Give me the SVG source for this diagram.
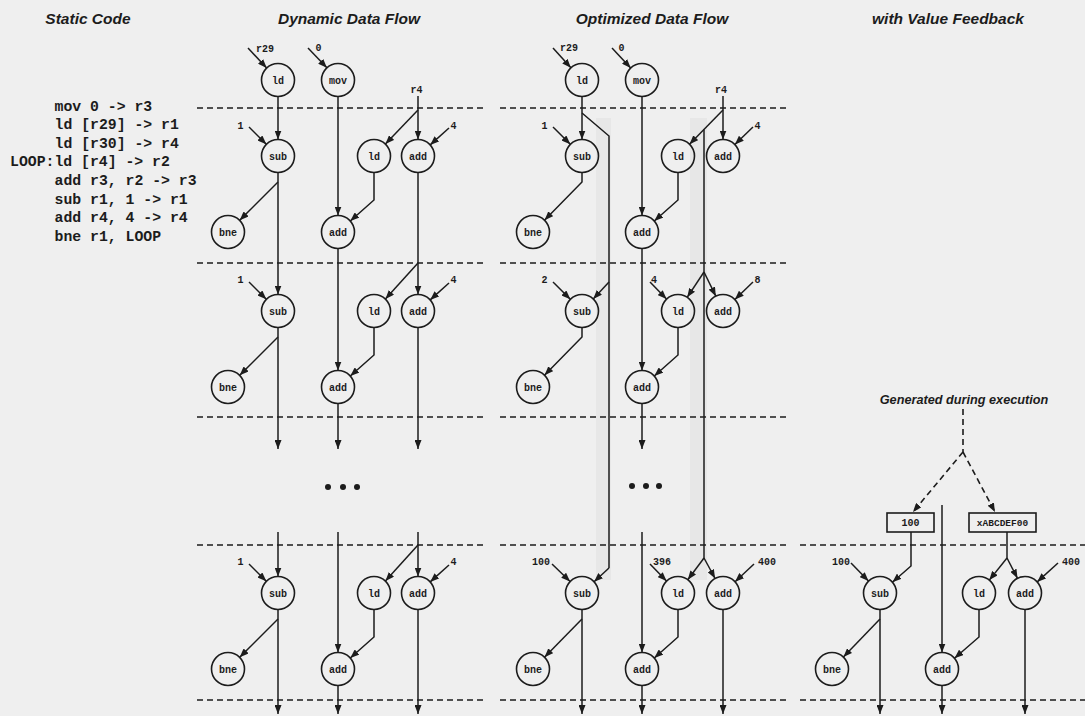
<svg xmlns="http://www.w3.org/2000/svg" width="1085" height="716" viewBox="0 0 1085 716">
<style>
.ln{stroke:#1c1c1c;stroke-width:1.5;fill:none}
.ar{marker-end:url(#ah)}
.dash{stroke:#1c1c1c;stroke-width:1.6;stroke-dasharray:6 4;fill:none}
.nd circle{fill:none;stroke:#1c1c1c;stroke-width:1.6}
.nd rect{fill:none;stroke:#1c1c1c;stroke-width:1.6}
.nd text,.lb{font-family:"Liberation Mono","DejaVu Sans Mono",monospace;font-weight:bold;font-size:10px;text-anchor:middle;fill:#1c1c1c}
.code{font-family:"Liberation Mono","DejaVu Sans Mono",monospace;font-weight:bold;font-size:14.8px;fill:#1c1c1c}
.title{font-family:"Liberation Sans",Arial,sans-serif;font-weight:bold;font-style:italic;font-size:15.5px;text-anchor:middle;fill:#1c1c1c}
.dot{fill:#1c1c1c}
</style>
<defs>
<marker id="ah" markerWidth="9" markerHeight="7" refX="9" refY="3.5" orient="auto" markerUnits="userSpaceOnUse"><path d="M0,0 L9,3.5 L0,7 z" fill="#1c1c1c"/></marker>
</defs>
<rect x="0" y="0" width="1085" height="716" fill="#efefef"/>
<rect x="596" y="118" width="15" height="462" fill="#cfcfcf" opacity="0.22"/>
<rect x="690" y="118" width="17" height="462" fill="#cfcfcf" opacity="0.22"/>

<g id="titles">
<text class="title" x="88" y="23.5">Static Code</text>
<text class="title" x="349" y="23.5">Dynamic Data Flow</text>
<text class="title" x="652" y="23.5">Optimized Data Flow</text>
<text class="title" x="948" y="23.5">with Value Feedback</text>
</g>

<g id="static-code">
<text class="code" x="54.5" y="110.7">mov 0 -&gt; r3</text>
<text class="code" x="54.5" y="129.3">ld [r29] -&gt; r1</text>
<text class="code" x="54.5" y="147.9">ld [r30] -&gt; r4</text>
<text class="code" x="10" y="166.4">LOOP:ld [r4] -&gt; r2</text>
<text class="code" x="54.5" y="185">add r3, r2 -&gt; r3</text>
<text class="code" x="54.5" y="203.6">sub r1, 1 -&gt; r1</text>
<text class="code" x="54.5" y="222.1">add r4, 4 -&gt; r4</text>
<text class="code" x="54.5" y="240.7">bne r1, LOOP</text>
</g>

<g id="separators">
<line class="dash" x1="197" y1="108" x2="485" y2="108"/>
<line class="dash" x1="197" y1="263" x2="485" y2="263"/>
<line class="dash" x1="197" y1="417" x2="485" y2="417"/>
<line class="dash" x1="197" y1="545" x2="485" y2="545"/>
<line class="dash" x1="197" y1="700" x2="485" y2="700"/>
<line class="dash" x1="500" y1="108" x2="787" y2="108"/>
<line class="dash" x1="500" y1="263" x2="787" y2="263"/>
<line class="dash" x1="500" y1="417" x2="787" y2="417"/>
<line class="dash" x1="500" y1="545" x2="787" y2="545"/>
<line class="dash" x1="500" y1="700" x2="787" y2="700"/>
<line class="dash" x1="800" y1="545" x2="1085" y2="545"/>
<line class="dash" x1="800" y1="700" x2="1085" y2="700"/>
</g>

<g id="labels">
<text class="lb" x="265" y="52">r29</text>
<text class="lb" x="318.5" y="50.5">0</text>
<text class="lb" x="416.5" y="93">r4</text>
<text class="lb" x="240.5" y="128.5">1</text>
<text class="lb" x="453.5" y="128.5">4</text>
<text class="lb" x="240.5" y="283">1</text>
<text class="lb" x="453.5" y="283">4</text>
<text class="lb" x="240.5" y="565">1</text>
<text class="lb" x="453.5" y="565">4</text>
<text class="lb" x="569" y="51">r29</text>
<text class="lb" x="621.5" y="50.5">0</text>
<text class="lb" x="721" y="93">r4</text>
<text class="lb" x="544.5" y="128.5">1</text>
<text class="lb" x="757.5" y="128.5">4</text>
<text class="lb" x="544.5" y="283">2</text>
<text class="lb" x="654" y="283">4</text>
<text class="lb" x="757.5" y="283">8</text>
<text class="lb" x="541" y="565">100</text>
<text class="lb" x="662" y="565">396</text>
<text class="lb" x="767" y="565">400</text>
<text class="lb" x="841" y="565">100</text>
<text class="lb" x="1071" y="565">400</text>
<text style="font-family:'Liberation Sans',Arial,sans-serif;font-weight:bold;font-style:italic;font-size:12.7px;text-anchor:middle;fill:#1c1c1c" x="964" y="404">Generated during execution</text>
</g>

<g id="ellipsis">
<circle class="dot" cx="328" cy="487" r="3"/>
<circle class="dot" cx="343" cy="487" r="3"/>
<circle class="dot" cx="357" cy="487" r="3"/>
<circle class="dot" cx="632" cy="486" r="3"/>
<circle class="dot" cx="646" cy="486" r="3"/>
<circle class="dot" cx="659" cy="486" r="3"/>
</g>

<g id="connectors">
<!-- Dynamic block 1 -->
<line class="ln ar" x1="248" y1="48" x2="266.7" y2="68"/>
<line class="ln ar" x1="308" y1="48" x2="326.9" y2="67.8"/>
<line class="ln ar" x1="278" y1="96.5" x2="278" y2="139.5"/>
<line class="ln ar" x1="338" y1="96.5" x2="338" y2="215.5"/>
<line class="ln" x1="418" y1="96" x2="418" y2="110"/>
<line class="ln ar" x1="418" y1="110" x2="418" y2="139.5"/>
<line class="ln ar" x1="418" y1="110" x2="385.4" y2="144.1"/>
<line class="ln ar" x1="449" y1="128" x2="430.2" y2="144.9"/>
<line class="ln ar" x1="249" y1="127" x2="266.3" y2="144.3"/>
<line class="ln ar" x1="278" y1="182" x2="239.7" y2="220.3"/>
<polyline class="ln ar" points="374,172.5 374,200 350.3,221"/>
<!-- Dynamic block 2 -->
<line class="ln ar" x1="278" y1="172.5" x2="278" y2="294.5"/>
<line class="ln ar" x1="338" y1="248.5" x2="338" y2="370.5"/>
<line class="ln ar" x1="418" y1="172.5" x2="418" y2="294.5"/>
<line class="ln ar" x1="418" y1="263" x2="385.4" y2="299.1"/>
<line class="ln ar" x1="449" y1="283" x2="430.2" y2="299.9"/>
<line class="ln ar" x1="249" y1="282" x2="266.3" y2="299.3"/>
<line class="ln ar" x1="278" y1="337" x2="239.7" y2="375.3"/>
<polyline class="ln ar" points="374,327.5 374,355 350.3,376"/>
<line class="ln ar" x1="278" y1="327.5" x2="278" y2="449"/>
<line class="ln ar" x1="338" y1="403.5" x2="338" y2="449"/>
<line class="ln ar" x1="418" y1="327.5" x2="418" y2="449"/>
<!-- Dynamic block 3 -->
<line class="ln ar" x1="278" y1="532" x2="278" y2="576.5"/>
<line class="ln ar" x1="338" y1="532" x2="338" y2="652.5"/>
<line class="ln ar" x1="418" y1="532" x2="418" y2="576.5"/>
<line class="ln ar" x1="418" y1="545" x2="385.4" y2="581.1"/>
<line class="ln ar" x1="449" y1="565" x2="430.2" y2="581.9"/>
<line class="ln ar" x1="249" y1="564" x2="266.3" y2="581.3"/>
<line class="ln ar" x1="278" y1="619" x2="239.7" y2="657.3"/>
<polyline class="ln ar" points="374,609.5 374,637 350.3,658"/>
<line class="ln ar" x1="278" y1="609.5" x2="278" y2="714"/>
<line class="ln ar" x1="338" y1="685.5" x2="338" y2="714"/>
<line class="ln ar" x1="418" y1="609.5" x2="418" y2="714"/>

<!-- Optimized block 1 -->
<line class="ln ar" x1="553" y1="48" x2="570.9" y2="67.8"/>
<line class="ln ar" x1="612" y1="48" x2="630.7" y2="68"/>
<line class="ln ar" x1="582" y1="96.5" x2="582" y2="139.5"/>
<polyline class="ln" points="582,113 609,136 609,568"/>
<line class="ln ar" x1="642" y1="96.5" x2="642" y2="215.5"/>
<line class="ln" x1="723" y1="96" x2="723" y2="110"/>
<line class="ln ar" x1="723" y1="110" x2="723" y2="139.5"/>
<line class="ln ar" x1="723" y1="110" x2="689.5" y2="144.2"/>
<line class="ln" x1="704" y1="129.4" x2="704" y2="558"/>
<line class="ln ar" x1="553" y1="127" x2="570.3" y2="144.3"/>
<line class="ln ar" x1="753" y1="127" x2="734.9" y2="144.5"/>
<polyline class="ln ar" points="582,172.5 582,182 544.5,220.2"/>
<polyline class="ln ar" points="678,172.5 678,200 654.3,221"/>
<!-- Optimized block 2 -->
<line class="ln ar" x1="642" y1="248.5" x2="642" y2="370.5"/>
<line class="ln ar" x1="609" y1="282" x2="593.2" y2="298.9"/>
<line class="ln ar" x1="704" y1="272" x2="687.2" y2="297.3"/>
<line class="ln ar" x1="704" y1="272" x2="715.8" y2="296.2"/>
<line class="ln ar" x1="553" y1="282" x2="570.3" y2="299.3"/>
<line class="ln ar" x1="650" y1="282" x2="666.5" y2="299.1"/>
<line class="ln ar" x1="753" y1="282" x2="734.9" y2="299.5"/>
<polyline class="ln ar" points="582,327.5 582,337 544.5,375.2"/>
<polyline class="ln ar" points="678,327.5 678,355 654.3,376"/>
<line class="ln ar" x1="642" y1="403.5" x2="642" y2="449"/>
<!-- Optimized block 3 -->
<line class="ln ar" x1="609" y1="568" x2="594.1" y2="581.8"/>
<line class="ln ar" x1="552" y1="564" x2="570.1" y2="581.5"/>
<line class="ln ar" x1="650" y1="564" x2="666.5" y2="581.1"/>
<line class="ln ar" x1="704" y1="558" x2="687.8" y2="579.7"/>
<line class="ln ar" x1="704" y1="558" x2="715.1" y2="578.5"/>
<line class="ln ar" x1="754" y1="564" x2="735.1" y2="581.7"/>
<line class="ln ar" x1="642" y1="532" x2="642" y2="652.5"/>
<line class="ln ar" x1="582" y1="609.5" x2="582" y2="714"/>
<line class="ln ar" x1="582" y1="619" x2="544.5" y2="657.2"/>
<polyline class="ln ar" points="678,609.5 678,637 654.3,658"/>
<line class="ln ar" x1="642" y1="685.5" x2="642" y2="714"/>
<line class="ln ar" x1="723" y1="609.5" x2="723" y2="714"/>

<!-- Value feedback -->
<line class="dash" x1="963" y1="409" x2="963" y2="452"/>
<line class="dash ar" x1="963" y1="452" x2="913" y2="512"/>
<line class="dash ar" x1="963" y1="452" x2="995" y2="512"/>
<line class="ln ar" x1="942" y1="505" x2="942" y2="652.5"/>
<polyline class="ln ar" points="911,532 911,566 892.4,582.2"/>
<line class="ln ar" x1="851" y1="563" x2="868.5" y2="581.1"/>
<line class="ln" x1="1007" y1="532" x2="1007" y2="558"/>
<line class="ln ar" x1="1007" y1="558" x2="989.3" y2="580.1"/>
<line class="ln ar" x1="1007" y1="558" x2="1017.5" y2="578.3"/>
<line class="ln ar" x1="1058" y1="563" x2="1037.2" y2="581.9"/>
<line class="ln ar" x1="880" y1="609.5" x2="880" y2="714"/>
<line class="ln ar" x1="880" y1="619" x2="843.4" y2="657.1"/>
<polyline class="ln ar" points="979,609.5 979,637 954.5,658.2"/>
<line class="ln ar" x1="942" y1="685.5" x2="942" y2="714"/>
<line class="ln ar" x1="1025" y1="609.5" x2="1025" y2="714"/>
</g>

<!-- Dynamic nodes -->
<g id="d0-ld" class="nd"><circle cx="278" cy="80" r="16.5"/><text x="278" y="83.5">ld</text></g>
<g id="d0-mov" class="nd"><circle cx="338" cy="80" r="16.5"/><text x="338" y="83.5">mov</text></g>
<g id="d1-sub" class="nd"><circle cx="278" cy="156" r="16.5"/><text x="278" y="159.5">sub</text></g>
<g id="d1-ld" class="nd"><circle cx="374" cy="156" r="16.5"/><text x="374" y="159.5">ld</text></g>
<g id="d1-add" class="nd"><circle cx="418" cy="156" r="16.5"/><text x="418" y="159.5">add</text></g>
<g id="d1-bne" class="nd"><circle cx="228" cy="232" r="16.5"/><text x="228" y="235.5">bne</text></g>
<g id="d1-acc" class="nd"><circle cx="338" cy="232" r="16.5"/><text x="338" y="235.5">add</text></g>
<g id="d2-sub" class="nd"><circle cx="278" cy="311" r="16.5"/><text x="278" y="314.5">sub</text></g>
<g id="d2-ld" class="nd"><circle cx="374" cy="311" r="16.5"/><text x="374" y="314.5">ld</text></g>
<g id="d2-add" class="nd"><circle cx="418" cy="311" r="16.5"/><text x="418" y="314.5">add</text></g>
<g id="d2-bne" class="nd"><circle cx="228" cy="387" r="16.5"/><text x="228" y="390.5">bne</text></g>
<g id="d2-acc" class="nd"><circle cx="338" cy="387" r="16.5"/><text x="338" y="390.5">add</text></g>
<g id="d3-sub" class="nd"><circle cx="278" cy="593" r="16.5"/><text x="278" y="596.5">sub</text></g>
<g id="d3-ld" class="nd"><circle cx="374" cy="593" r="16.5"/><text x="374" y="596.5">ld</text></g>
<g id="d3-add" class="nd"><circle cx="418" cy="593" r="16.5"/><text x="418" y="596.5">add</text></g>
<g id="d3-bne" class="nd"><circle cx="228" cy="669" r="16.5"/><text x="228" y="672.5">bne</text></g>
<g id="d3-acc" class="nd"><circle cx="338" cy="669" r="16.5"/><text x="338" y="672.5">add</text></g>

<!-- Optimized nodes -->
<g id="o0-ld" class="nd"><circle cx="582" cy="80" r="16.5"/><text x="582" y="83.5">ld</text></g>
<g id="o0-mov" class="nd"><circle cx="642" cy="80" r="16.5"/><text x="642" y="83.5">mov</text></g>
<g id="o1-sub" class="nd"><circle cx="582" cy="156" r="16.5"/><text x="582" y="159.5">sub</text></g>
<g id="o1-ld" class="nd"><circle cx="678" cy="156" r="16.5"/><text x="678" y="159.5">ld</text></g>
<g id="o1-add" class="nd"><circle cx="723" cy="156" r="16.5"/><text x="723" y="159.5">add</text></g>
<g id="o1-bne" class="nd"><circle cx="533" cy="232" r="16.5"/><text x="533" y="235.5">bne</text></g>
<g id="o1-acc" class="nd"><circle cx="642" cy="232" r="16.5"/><text x="642" y="235.5">add</text></g>
<g id="o2-sub" class="nd"><circle cx="582" cy="311" r="16.5"/><text x="582" y="314.5">sub</text></g>
<g id="o2-ld" class="nd"><circle cx="678" cy="311" r="16.5"/><text x="678" y="314.5">ld</text></g>
<g id="o2-add" class="nd"><circle cx="723" cy="311" r="16.5"/><text x="723" y="314.5">add</text></g>
<g id="o2-bne" class="nd"><circle cx="533" cy="387" r="16.5"/><text x="533" y="390.5">bne</text></g>
<g id="o2-acc" class="nd"><circle cx="642" cy="387" r="16.5"/><text x="642" y="390.5">add</text></g>
<g id="o3-sub" class="nd"><circle cx="582" cy="593" r="16.5"/><text x="582" y="596.5">sub</text></g>
<g id="o3-ld" class="nd"><circle cx="678" cy="593" r="16.5"/><text x="678" y="596.5">ld</text></g>
<g id="o3-add" class="nd"><circle cx="723" cy="593" r="16.5"/><text x="723" y="596.5">add</text></g>
<g id="o3-bne" class="nd"><circle cx="533" cy="669" r="16.5"/><text x="533" y="672.5">bne</text></g>
<g id="o3-acc" class="nd"><circle cx="642" cy="669" r="16.5"/><text x="642" y="672.5">add</text></g>

<!-- Value feedback nodes -->
<g id="v-box100" class="nd"><rect x="887" y="513" width="47" height="19"/><text x="910.5" y="526">100</text></g>
<g id="v-boxaddr" class="nd"><rect x="969" y="513" width="67" height="19"/><text x="1002.5" y="526" style="font-size:9.5px">xABCDEF00</text></g>
<g id="v-sub" class="nd"><circle cx="880" cy="593" r="16.5"/><text x="880" y="596.5">sub</text></g>
<g id="v-ld" class="nd"><circle cx="979" cy="593" r="16.5"/><text x="979" y="596.5">ld</text></g>
<g id="v-add" class="nd"><circle cx="1025" cy="593" r="16.5"/><text x="1025" y="596.5">add</text></g>
<g id="v-bne" class="nd"><circle cx="832" cy="669" r="16.5"/><text x="832" y="672.5">bne</text></g>
<g id="v-acc" class="nd"><circle cx="942" cy="669" r="16.5"/><text x="942" y="672.5">add</text></g>
</svg>
